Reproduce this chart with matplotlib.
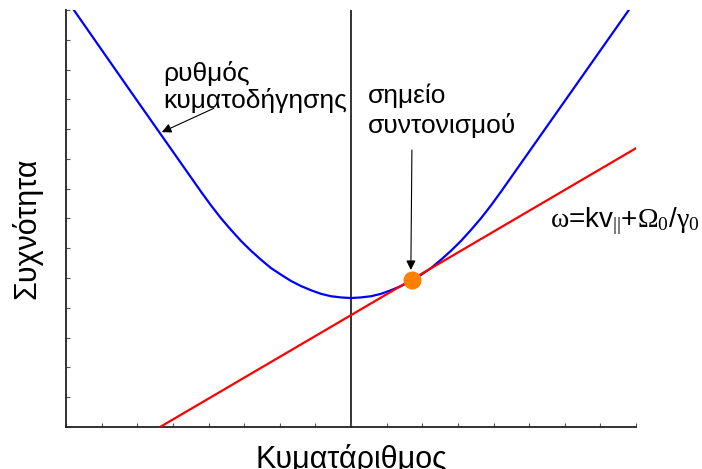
import numpy as np
import matplotlib.pyplot as plt

plt.rcParams['font.family'] = ['Liberation Sans', 'DejaVu Sans']
plt.rcParams['mathtext.fontset'] = 'custom'
plt.rcParams['mathtext.rm'] = 'Liberation Serif'
plt.rcParams['mathtext.it'] = 'Liberation Serif'
plt.rcParams['mathtext.bf'] = 'Liberation Serif:bold'

# waveguide mode (wavenumber k, frequency w)
k_mode = [0.22, 1.83, 3.79, 4.07, 4.35, 4.63, 4.91, 5.19, 5.47, 5.75, 6.04,
          6.32, 6.60, 6.88, 7.16, 7.44, 7.72, 8.00, 8.28, 8.56, 8.84, 9.12,
          9.40, 9.68, 9.97, 10.25, 10.53, 10.81, 11.09, 11.37, 11.65, 11.93,
          12.21, 13.61, 15.81]
w_mode = [14.00, 11.24, 7.90, 7.44, 7.01, 6.62, 6.25, 5.92, 5.62, 5.34, 5.11,
          4.90, 4.73, 4.59, 4.47, 4.39, 4.35, 4.33, 4.35, 4.39, 4.47, 4.59,
          4.73, 4.90, 5.11, 5.34, 5.62, 5.92, 6.25, 6.62, 7.01, 7.44,
          7.90, 10.28, 14.02]

# beam line w = k v_par + Omega_0 / gamma_0
k_beam = [2.64, 16.0]
w_beam = [0.0, 9.36]

# resonance point and k of the vertical reference line
k_res, w_res = 9.71, 4.94
k_zero = 8.0

fig = plt.figure(figsize=(7.02, 4.69), dpi=100)
ax = fig.add_axes([66 / 702, 42 / 469, 570 / 702, 417 / 469])

ax.axvline(k_zero, color='#222222', lw=1.3, zorder=1)
ax.plot(k_mode, w_mode, color='#0000ff', lw=1.6, zorder=2)
ax.plot(k_beam, w_beam, color='#ff0000', lw=1.6, zorder=3)
ax.plot([k_res], [w_res], 'o', color='#ff8000', ms=12, mec='#ff8000', zorder=4)

ax.set_xlim(0, 16)
ax.set_ylim(0, 14)
ax.set_xticks(np.arange(0, 17, 1))
ax.set_yticks(np.arange(0, 15, 1))
ax.tick_params(direction='in', length=3, width=0.8, color='#555555',
               labelbottom=False, labelleft=False)
for side in ['top', 'right']:
    ax.spines[side].set_visible(False)
for side in ['left', 'bottom']:
    ax.spines[side].set_color('#222222')
    ax.spines[side].set_linewidth(1.3)

fs = 19
ax.text(2.72, 11.61, 'ρυθμός', fontsize=fs, va='baseline')
ax.text(2.72, 10.70, 'κυματοδήγησης', fontsize=fs, va='baseline')
ax.annotate('', xy=(2.69, 9.90), xytext=(4.15, 10.70),
            arrowprops=dict(arrowstyle='-|>', color='black', lw=0.8,
                            mutation_scale=14, shrinkA=0, shrinkB=0))

ax.text(8.48, 10.87, 'σημείο', fontsize=fs, va='baseline')
ax.text(8.48, 9.87, 'συντονισμού', fontsize=fs, va='baseline')
ax.annotate('', xy=(9.68, 5.27), xytext=(9.71, 9.30),
            arrowprops=dict(arrowstyle='-|>', color='black', lw=0.8,
                            mutation_scale=14, shrinkA=0, shrinkB=0))

ax.text(13.58, 6.71, r'$\omega$=kv$_{||}$+$\Omega_0$/$\gamma_0$',
        fontsize=20, va='baseline', clip_on=False)

fig.text(351 / 702, 1 / 469, 'Κυματάριθμος', fontsize=22,
         ha='center', va='baseline')
fig.text(27 / 702, (469 - 228) / 469, 'Συχνότητα', fontsize=22,
         rotation=90, ha='center', va='center')

fig.savefig('out.png', dpi=100, facecolor='white')
